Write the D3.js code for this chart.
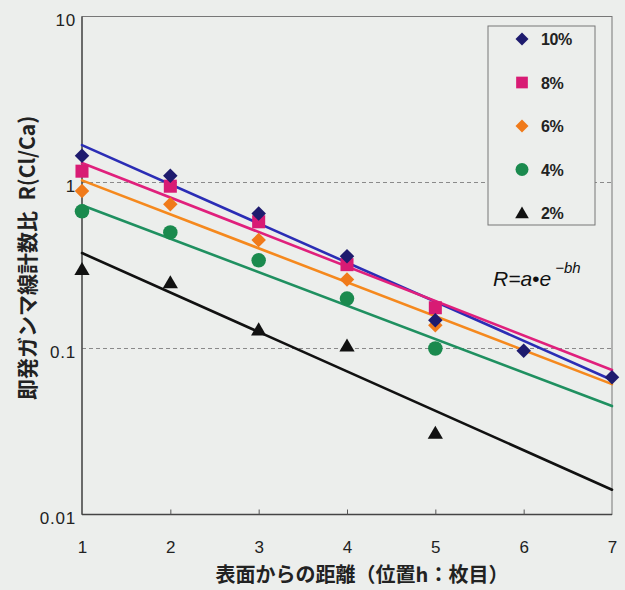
<!DOCTYPE html>
<html>
<head>
<meta charset="utf-8">
<script src="https://cdn.jsdelivr.net/npm/d3@7"></script>
<style>
  html, body { margin: 0; padding: 0; background: #eceeec; }
  svg { display: block; }
</style>
</head>
<body>
<svg id="chart" width="625" height="590"></svg>
<script>
// ---- data ----
const positions = [1, 2, 3, 4, 5, 6, 7];
const seriesNames = ["10%", "8%", "6%", "4%", "2%"];
const values10 = [1.45, 1.10, 0.65, 0.36, 0.148, 0.097, 0.067];
const values8  = [1.17, 0.95, 0.58, 0.32, 0.176];
const values6  = [0.89, 0.74, 0.45, 0.26, 0.138];
const values4  = [0.67, 0.50, 0.34, 0.20, 0.100];
const values2  = [0.30, 0.25, 0.13, 0.104, 0.031];
// fitted curve values at h = 1 and h = 7
const fitAtStart = [1.68, 1.31, 1.03, 0.73, 0.376];
const fitAtEnd   = [0.0646, 0.0742, 0.061, 0.045, 0.0141];
const yTicks = [0.01, 0.1, 1, 10];
const yTickLabels = ["0.01", "0.1", "1", "10"];
const xTicks = [1, 2, 3, 4, 5, 6, 7];
const gridValues = [0.1, 1];

const allValues = [values10, values8, values6, values4, values2];
const lineColors = ["#2b2db5", "#e0207c", "#f5891e", "#1f9060", "#111111"];
const markColors = ["#1e1b6e", "#d81b74", "#f07a1a", "#1a8a4e", "#111111"];
const markTypes = ["diamond", "square", "diamond", "circle", "triangle"];

// ---- layout ----
const svg = d3.select("#chart");
const pLeft = 82, pRight = 612, pTop = 16.5, pBottom = 514.5;
const x = d3.scaleLinear().domain([1, 7]).range([pLeft, pRight]);
const y = d3.scaleLog().domain([0.01, 10]).range([pBottom, pTop]);

svg.append("rect").attr("width", 625).attr("height", 590).attr("fill", "#eceeec");

// grid
svg.append("g").selectAll("line").data(gridValues).join("line")
  .attr("x1", pLeft).attr("x2", pRight)
  .attr("y1", d => y(d)).attr("y2", d => y(d))
  .attr("stroke", "#8a8a8a").attr("stroke-width", 1).attr("stroke-dasharray", "4,3");

// frame
svg.append("rect").attr("x", pLeft).attr("y", pTop)
  .attr("width", pRight - pLeft).attr("height", pBottom - pTop)
  .attr("fill", "none").attr("stroke", "#777").attr("stroke-width", 1);
svg.append("line").attr("x1", pLeft).attr("x2", pLeft).attr("y1", pTop).attr("y2", pBottom)
  .attr("stroke", "#444").attr("stroke-width", 1.3);
svg.append("line").attr("x1", pLeft).attr("x2", pRight).attr("y1", pBottom).attr("y2", pBottom)
  .attr("stroke", "#444").attr("stroke-width", 1.3);

// x axis
const xAxis = d3.axisBottom(x).tickValues(xTicks).tickFormat(d3.format("d"))
  .tickSizeInner(-5).tickSizeOuter(0).tickPadding(26);
const gx = svg.append("g").attr("transform", `translate(0,${pBottom})`).call(xAxis);
gx.select(".domain").remove();
gx.selectAll(".tick line").attr("stroke", "#555");
gx.selectAll(".tick text").attr("font-family", "Liberation Sans, Arial, sans-serif")
  .attr("font-size", 17).attr("fill", "#222");
gx.selectAll(".tick").filter(d => d === 1 || d === 7).select("line").remove();

// y axis
const yAxis = d3.axisLeft(y).tickValues(yTicks)
  .tickFormat((d, i) => yTickLabels[i]).tickSize(0).tickPadding(6);
const gy = svg.append("g").attr("transform", `translate(${pLeft},0)`).call(yAxis);
gy.select(".domain").remove();
gy.selectAll(".tick text").attr("font-family", "Liberation Sans, Arial, sans-serif")
  .attr("font-size", 17).attr("fill", "#222").attr("dy", "0.5em").attr("letter-spacing", 0.8);

// fitted lines
const line = d3.line().x(d => x(d[0])).y(d => y(d[1]));
svg.append("g").selectAll("path").data(seriesNames).join("path")
  .attr("d", (d, i) => line([[1, fitAtStart[i]], [7, fitAtEnd[i]]]))
  .attr("fill", "none").attr("stroke", (d, i) => lineColors[i])
  .attr("stroke-width", 2.6).attr("stroke-linecap", "round");

// markers
function markPath(type, s) {
  const h = s / 2;
  if (type === "diamond") return `M0,${-h}L${h},0L0,${h}L${-h},0Z`;
  if (type === "square") { const q = h * 0.9; return `M${-q},${-q}H${q}V${q}H${-q}Z`; }
  if (type === "triangle") return `M0,${-h}L${h * 1.05},${h * 0.8}L${-h * 1.05},${h * 0.8}Z`;
  return d3.arc()({innerRadius: 0, outerRadius: h, startAngle: 0, endAngle: 2 * Math.PI});
}
// draw 2% first, 10% last
for (let i = allValues.length - 1; i >= 0; i--) {
  svg.append("g").selectAll("path").data(allValues[i]).join("path")
    .attr("transform", (d, j) => `translate(${x(positions[j])},${y(d)})`)
    .attr("d", markPath(markTypes[i], 14.5))
    .attr("fill", markColors[i]);
}

// legend
const lg = svg.append("g");
lg.append("rect").attr("x", 488).attr("y", 26).attr("width", 107).attr("height", 199)
  .attr("fill", "#eceeec").attr("stroke", "#777").attr("stroke-width", 1);
const legendY = d3.scalePoint().domain(seriesNames).range([39, 213]);
seriesNames.forEach((name, i) => {
  lg.append("path").attr("transform", `translate(522,${legendY(name)})`)
    .attr("d", markPath(markTypes[i], 13)).attr("fill", markColors[i]);
  lg.append("text").attr("x", 541).attr("y", legendY(name)).attr("dy", "0.38em")
    .attr("font-family", "Liberation Sans Narrow, Liberation Sans, Arial, sans-serif")
    .attr("font-weight", "bold").attr("font-size", 16).attr("letter-spacing", -0.4)
    .attr("fill", "#222").text(name);
});

// formula
const ft = svg.append("text").attr("x", 493).attr("y", 286)
  .attr("font-family", "Liberation Sans, Arial, sans-serif").attr("font-style", "italic")
  .attr("font-size", 21).attr("fill", "#111");
ft.append("tspan").text("R=a•e");
ft.append("tspan").attr("dx", 4).attr("dy", -13).attr("font-size", 15).text("−bh");

// axis titles
svg.append("text").attr("transform", "translate(35,258) rotate(-90)")
  .attr("text-anchor", "middle")
  .attr("font-family", "Noto Sans CJK JP, sans-serif").attr("font-weight", "bold")
  .attr("font-size", 21).attr("fill", "#222").text("即発ガンマ線計数比\u2002R(Cl/Ca)");
svg.append("text").attr("x", 362).attr("y", 582).attr("text-anchor", "middle")
  .attr("font-family", "Noto Sans CJK JP, sans-serif").attr("font-weight", "bold")
  .attr("font-size", 20).attr("fill", "#222").text("表面からの距離（位置h：枚目）");
</script>
</body>
</html>
